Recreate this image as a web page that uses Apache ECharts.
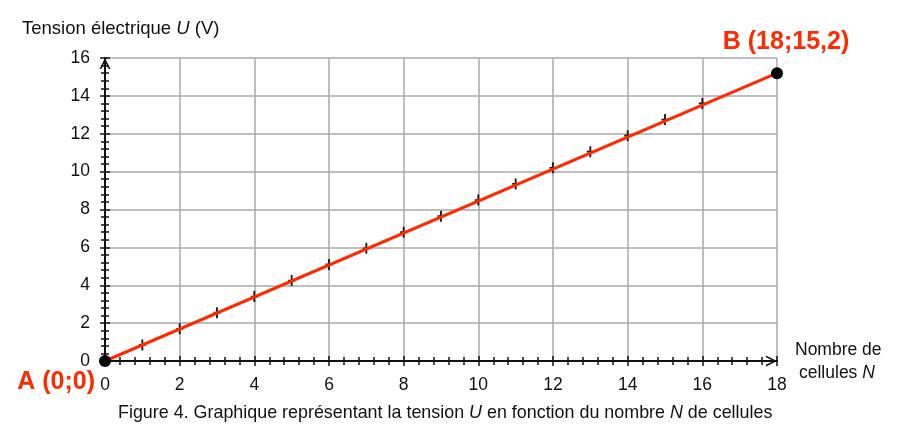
<!DOCTYPE html>
<html>
<head>
<meta charset="utf-8">
<script src="https://cdn.jsdelivr.net/npm/echarts@6/dist/echarts.min.js"></script>
<style>html,body{margin:0;padding:0;background:#fff}#c{width:908px;height:430px}</style>
</head>
<body>
<div id="c"></div>
<script>
// ---- data ----
const xTickLabels = ['0','2','4','6','8','10','12','14','16','18'];
const yTickLabels = ['0','2','4','6','8','10','12','14','16'];
const lineN = [0, 18];
const lineU = [0, 15.2];
const markN = [1,2,3,4,5,6,7,8,9,10,11,12,13,14,15,16];
const markU = [0.85,1.7,2.55,3.4,4.25,5.1,5.95,6.8,7.65,8.5,9.35,10.2,11.05,11.9,12.75,13.6];
const pointNames = ['A (0;0)', 'B (18;15,2)'];
const pointN = [0, 18];
const pointU = [0, 15.2];

const FONT = "'Liberation Sans', Arial, Helvetica, sans-serif";
const RED = '#ff2a00';
const chevron = 'path://M0,10 L5,0 L10,10 L8.4,10 L5,3.2 L1.6,10 Z';
const plus = 'path://M-0.8,-5 L0.8,-5 L0.8,-0.8 L3,-0.8 L3,0.8 L0.8,0.8 L0.8,5 L-0.8,5 L-0.8,0.8 L-3,0.8 L-3,-0.8 L-0.8,-0.8 Z';

function baseAxis(max, labels, inside, main) {
  return {
    type: 'value', min: 0, max: max, interval: 2,
    axisLine: { show: true, onZero: false, lineStyle: { color: '#111', width: 2 },
      symbol: main ? ['none', chevron] : ['none','none'], symbolSize: [13, 11], symbolOffset: [0, -5.5] },
    axisTick: { show: true, inside: inside, length: 5, lineStyle: { color: '#111', width: 1.5 } },
    minorTick: { show: true, splitNumber: 5, length: 4, lineStyle: { color: '#111', width: 1.5 } },
    axisLabel: { show: main, margin: 15, color: '#111', fontSize: 17.5, fontFamily: FONT,
      formatter: function (v) { return labels[Math.round(v / 2)]; } },
    splitLine: { show: main, lineStyle: { color: '#a8a8a8', width: 1.5 } },
    minorSplitLine: { show: false },
    z: main ? 2 : 3
  };
}

const x0 = Object.assign(baseAxis(18, xTickLabels, false, true), { position: 'bottom' });
const x1 = Object.assign(baseAxis(18, xTickLabels, true, false), { position: 'bottom' });
const y0 = Object.assign(baseAxis(16, yTickLabels, false, true), { position: 'left' });
const y1 = Object.assign(baseAxis(16, yTickLabels, true, false), { position: 'left' });

const chart = echarts.init(document.getElementById('c'), null, { renderer: 'canvas' });
chart.setOption({
  animation: false,
  backgroundColor: '#fff',
  grid: { left: 105, right: 131, top: 58, bottom: 69, containLabel: false, outerBoundsMode: 'none' },
  title: [
    { text: 'Tension électrique {i|U} (V)', left: 22, top: 19, padding: 0,
      textStyle: { fontSize: 18.5, fontWeight: 'normal', color: '#111', fontFamily: FONT,
        rich: { i: { fontStyle: 'italic', fontSize: 18.5, color: '#111', fontFamily: FONT } } } },
    { text: 'Nombre de', left: 795, top: 341, padding: 0,
      textStyle: { fontSize: 17.5, fontWeight: 'normal', color: '#111', fontFamily: FONT } },
    { text: 'cellules {i|N}', left: 799, top: 364, padding: 0,
      textStyle: { fontSize: 17.5, fontWeight: 'normal', color: '#111', fontFamily: FONT,
        rich: { i: { fontStyle: 'italic', fontSize: 17.5, color: '#111', fontFamily: FONT } } } },
    { text: 'Figure 4. Graphique représentant la tension {i|U} en fonction du nombre {i|N} de cellules',
      left: 118, top: 404, padding: 0,
      textStyle: { fontSize: 17.9, fontWeight: 'normal', color: '#111', fontFamily: FONT,
        rich: { i: { fontStyle: 'italic', fontSize: 17.9, color: '#111', fontFamily: FONT } } } }
  ],
  xAxis: [x0, x1],
  yAxis: [y0, y1],
  series: [
    { type: 'scatter', xAxisIndex: 0, yAxisIndex: 0,
      data: markN.map((n, i) => [n, markU[i]]),
      symbol: plus, symbolSize: [7, 11], symbolKeepAspect: false,
      itemStyle: { color: '#1a1a1a', opacity: 1 }, z: 3, silent: true },
    { type: 'line', xAxisIndex: 0, yAxisIndex: 0,
      data: lineN.map((n, i) => [n, lineU[i]]),
      showSymbol: false, symbol: 'none',
      lineStyle: { color: RED, width: 3, opacity: 1 }, z: 4, silent: true },
    { type: 'scatter', xAxisIndex: 0, yAxisIndex: 0,
      data: pointN.map((n, i) => ({
        value: [n, pointU[i]], name: pointNames[i],
        label: i === 0
          ? { position: 'left', distance: 4, offset: [0, 21] }
          : { position: 'top', distance: 4, offset: [9, -9] }
      })),
      symbol: 'circle', symbolSize: 12,
      itemStyle: { color: '#000', opacity: 1 }, z: 5, silent: true,
      label: { show: true, formatter: '{b}', color: RED, fontSize: 25, fontWeight: 'bold', fontFamily: FONT } }
  ]
});
</script>
</body>
</html>
